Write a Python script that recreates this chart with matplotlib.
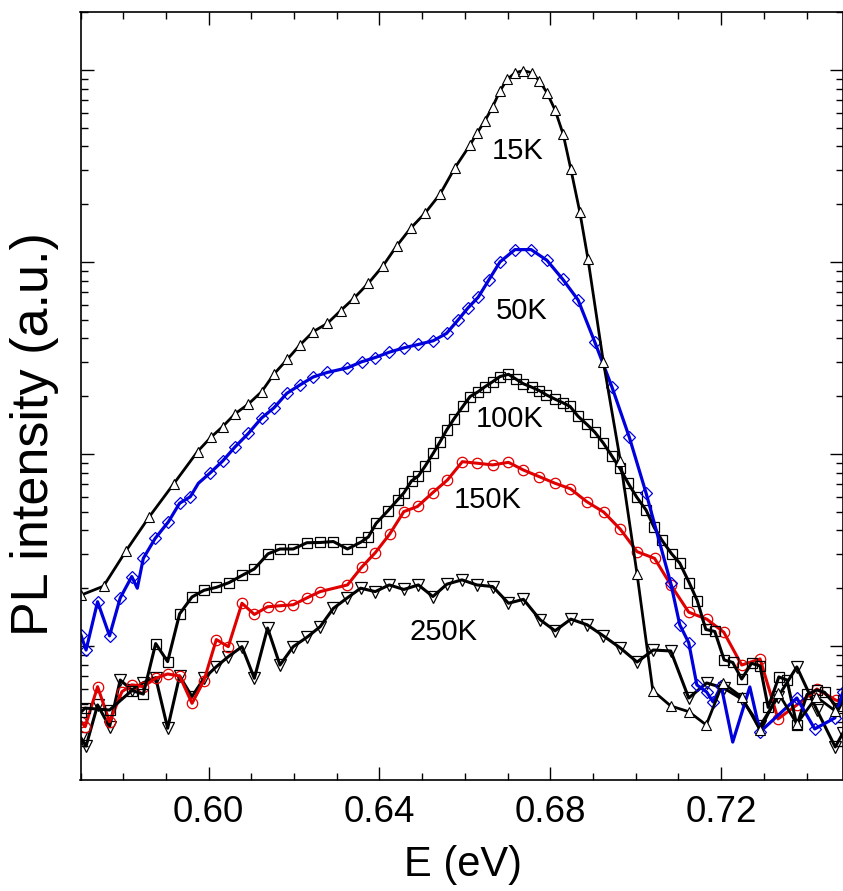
import numpy as np
import matplotlib
matplotlib.use('Agg')
import matplotlib.pyplot as plt
from matplotlib.ticker import MultipleLocator, LogLocator, NullFormatter, FormatStrFormatter

plt.rcParams['font.family'] = ['Liberation Sans', 'DejaVu Sans']

# 15 K
e_15 = [0.5701, 0.5754, 0.5807, 0.5861, 0.5918, 0.5974, 0.6005, 0.6033, 0.6062, 0.6093,
        0.6124, 0.6153, 0.6184, 0.6214, 0.6245, 0.6278, 0.6309, 0.6340, 0.6374, 0.6408,
        0.6440, 0.6473, 0.6507, 0.6542, 0.6576, 0.6612, 0.6628, 0.6647, 0.6665, 0.6682,
        0.6699, 0.6718, 0.6737, 0.6756, 0.6774, 0.6792, 0.6811, 0.6830, 0.6848, 0.6869,
        0.6888, 0.6924, 0.6964, 0.7003, 0.7040, 0.7082, 0.7124, 0.7165, 0.7204, 0.7248,
        0.7291, 0.7334, 0.7377, 0.7423, 0.7467, 0.7485]
i_15 = [1.84, 2.05, 3.14, 4.71, 6.98, 10.3, 12.2, 13.9, 16.2, 18.2,
        21.1, 26.1, 31.1, 37.0, 43.4, 47.9, 55.8, 64.7, 77.5, 95.3,
        121, 150, 180, 226, 308, 407, 468, 544, 644, 777,
        894, 968, 992, 968, 880, 762, 619, 463, 304, 182,
        104, 30.3, 9.20, 2.37, 0.585, 0.487, 0.455, 0.388, 0.642, 0.543,
        0.365, 0.569, 0.393, 0.543, 0.459, 0.487]

# 50 K
e_50 = [0.5701, 0.5713, 0.5740, 0.5768, 0.5793, 0.5820, 0.5833, 0.5847, 0.5875, 0.5906,
        0.5932, 0.5957, 0.5976, 0.6004, 0.6033, 0.6062, 0.6093, 0.6124, 0.6153, 0.6183,
        0.6214, 0.6245, 0.6278, 0.6325, 0.6358, 0.6390, 0.6423, 0.6457, 0.6491, 0.6526,
        0.6557, 0.6584, 0.6607, 0.6631, 0.6656, 0.6682, 0.6717, 0.6755, 0.6792, 0.6829,
        0.6865, 0.6904, 0.6944, 0.6985, 0.7024, 0.7082, 0.7103, 0.7124, 0.7143, 0.7166,
        0.7181, 0.7200, 0.7227, 0.7267, 0.7291, 0.7377, 0.7419, 0.7466, 0.7485]
i_50 = [1.14, 0.953, 1.70, 1.13, 1.78, 2.30, 2.00, 2.86, 3.64, 4.44,
        5.54, 5.99, 7.04, 7.99, 9.20, 10.9, 12.8, 15.4, 17.4, 20.7,
        22.9, 25.2, 26.6, 28.1, 30.2, 31.8, 33.9, 35.7, 37.2, 38.9,
        42.5, 49.9, 57.6, 65.5, 80.6, 100, 116, 116, 102, 81.3,
        63.4, 38.3, 22.4, 12.2, 6.27, 2.12, 1.29, 1.04, 0.627, 0.576,
        0.511, 0.619, 0.316, 0.612, 0.357, 0.536, 0.370, 0.422, 0.576]
no_marker_50 = [6, 12, 52, 53]

# 100 K
e_100 = [0.5701, 0.5711, 0.5768, 0.5820, 0.5847, 0.5876, 0.5904, 0.5932, 0.5961, 0.5989,
         0.6018, 0.6048, 0.6078, 0.6107, 0.6139, 0.6167, 0.6198, 0.6230, 0.6261, 0.6292,
         0.6325, 0.6357, 0.6374, 0.6392, 0.6419, 0.6443, 0.6457, 0.6475, 0.6491, 0.6507,
         0.6526, 0.6542, 0.6557, 0.6574, 0.6596, 0.6612, 0.6631, 0.6647, 0.6665, 0.6682,
         0.6702, 0.6720, 0.6737, 0.6756, 0.6774, 0.6791, 0.6811, 0.6829, 0.6846, 0.6865,
         0.6885, 0.6904, 0.6924, 0.6944, 0.6963, 0.6982, 0.7002, 0.7024, 0.7043, 0.7061,
         0.7084, 0.7103, 0.7125, 0.7144, 0.7164, 0.7185, 0.7207, 0.7227, 0.7248, 0.7271,
         0.7291, 0.7310, 0.7335, 0.7354, 0.7377, 0.7401, 0.7424, 0.7442, 0.7473, 0.7485]
i_100 = [0.453, 0.475, 0.464, 0.586, 0.562, 1.03, 0.829, 1.47, 1.80, 1.95,
         2.02, 2.14, 2.33, 2.52, 3.02, 3.20, 3.20, 3.45, 3.46, 3.50,
         3.20, 3.48, 3.70, 4.35, 5.04, 5.79, 6.27, 7.24, 7.68, 8.66,
         10.1, 11.6, 13.3, 15.2, 17.8, 19.9, 21.1, 22.4, 23.8, 25.3,
         26.0, 24.5, 23.2, 22.3, 21.4, 20.3, 19.3, 18.5, 17.7, 15.7,
         14.3, 13.0, 11.4, 9.76, 8.42, 7.06, 5.97, 5.11, 4.15, 3.56,
         3.02, 2.70, 2.14, 1.72, 1.22, 1.19, 0.846, 0.821, 0.673, 0.813,
         0.787, 0.479, 0.690, 0.665, 0.386, 0.559, 0.590, 0.574, 0.474, 0.523]

# 150 K
e_150 = [0.5701, 0.5711, 0.5740, 0.5768, 0.5797, 0.5820, 0.5847, 0.5876, 0.5904, 0.5932,
         0.5961, 0.5989, 0.6018, 0.6046, 0.6078, 0.6107, 0.6138, 0.6167, 0.6198, 0.6230,
         0.6261, 0.6325, 0.6358, 0.6390, 0.6424, 0.6457, 0.6489, 0.6525, 0.6559, 0.6594,
         0.6629, 0.6665, 0.6702, 0.6737, 0.6774, 0.6811, 0.6847, 0.6885, 0.6925, 0.6964,
         0.7003, 0.7044, 0.7082, 0.7124, 0.7166, 0.7206, 0.7248, 0.7291, 0.7333, 0.7377,
         0.7424, 0.7468, 0.7485]
i_150 = [0.403, 0.380, 0.614, 0.403, 0.578, 0.627, 0.614, 0.679, 0.715, 0.698,
         0.503, 0.660, 1.08, 0.992, 1.67, 1.46, 1.60, 1.62, 1.64, 1.78,
         1.92, 2.08, 2.57, 3.06, 3.83, 5.01, 5.33, 6.30, 7.32, 9.12,
         8.95, 8.77, 9.05, 8.25, 7.62, 7.04, 6.59, 5.65, 4.98, 4.05,
         3.10, 2.86, 2.08, 1.50, 1.38, 1.18, 0.796, 0.856, 0.417, 0.493,
         0.597, 0.523, 0.511]

# 250 K
e_250 = [0.5701, 0.5713, 0.5740, 0.5768, 0.5793, 0.5820, 0.5847, 0.5876, 0.5904, 0.5932,
         0.5961, 0.5989, 0.6018, 0.6046, 0.6078, 0.6107, 0.6138, 0.6167, 0.6198, 0.6230,
         0.6261, 0.6292, 0.6323, 0.6356, 0.6390, 0.6423, 0.6457, 0.6491, 0.6525, 0.6558,
         0.6593, 0.6628, 0.6665, 0.6702, 0.6737, 0.6776, 0.6811, 0.6848, 0.6886, 0.6924,
         0.6964, 0.7003, 0.7041, 0.7082, 0.7124, 0.7166, 0.7206, 0.7248, 0.7291, 0.7333,
         0.7377, 0.7424, 0.7467, 0.7485]
i_250 = [0.332, 0.301, 0.493, 0.380, 0.665, 0.590, 0.644, 0.684, 0.373, 0.698,
         0.545, 0.679, 0.780, 0.880, 0.992, 0.679, 1.24, 0.796, 0.992, 1.11,
         1.26, 1.57, 1.77, 2.00, 1.92, 2.08, 1.97, 2.08, 1.81, 2.10,
         2.21, 2.08, 2.04, 1.67, 1.75, 1.37, 1.20, 1.38, 1.29, 1.13,
         0.976, 0.825, 0.953, 0.942, 0.536, 0.642, 0.604, 0.530, 0.383, 0.543,
         0.778, 0.464, 0.298, 0.352]

labels = ['15K', '50K', '100K', '150K', '250K']
label_e = [0.6724, 0.6734, 0.6704, 0.6653, 0.6549]
label_i = [378, 55.6, 15.2, 5.78, 1.18]

blue = '#0000dd'
red = '#e00000'

fig = plt.figure(figsize=(8.43, 8.91), dpi=100)
ax = fig.add_axes([80.5 / 843, 111 / 891, 762 / 843, 768 / 891])

ax.plot(e_250, i_250, color='k', lw=2.2, marker='v', ms=8, mfc='none', mec='k', mew=0.9)
ax.plot(e_150, i_150, color=red, lw=2.2, marker='o', ms=7.5, mfc='none', mec=red, mew=0.9)
ax.plot(e_100, i_100, color='k', lw=2.2, marker='s', ms=6.8, mfc='none', mec='k', mew=0.9)
ax.plot(e_50, i_50, color=blue, lw=2.3, marker='D', ms=6.5, mfc='none', mec=blue, mew=0.9,
        markevery=[k for k in range(len(e_50)) if k not in no_marker_50])
ax.plot(e_15, i_15, color='k', lw=2.0, marker='^', ms=7, mfc='white', mec='k', mew=0.8)

for txt, x, y in zip(labels, label_e, label_i):
    ax.text(x, y, txt, fontsize=21, ha='center', va='center')

ax.set_yscale('log')
ax.set_xlim(0.570, 0.7484)
ax.set_ylim(0.2005, 2004)

ax.xaxis.set_major_locator(MultipleLocator(0.04))
ax.xaxis.set_minor_locator(MultipleLocator(0.01))
ax.xaxis.set_major_formatter(FormatStrFormatter('%.2f'))
ax.yaxis.set_major_locator(LogLocator(base=10, numticks=10))
ax.yaxis.set_minor_locator(LogLocator(base=10, subs=np.arange(2, 10), numticks=20))
ax.yaxis.set_major_formatter(NullFormatter())
ax.yaxis.set_minor_formatter(NullFormatter())

ax.tick_params(which='both', direction='in', top=True, right=True, width=1)
ax.tick_params(which='major', length=9.5, labelsize=26.5, pad=11)
ax.tick_params(which='minor', length=5)
for sp in ax.spines.values():
    sp.set_linewidth(1.2)

ax.set_xlabel('E (eV)', fontsize=30, va='center')
ax.xaxis.set_label_coords(0.502, -0.111)
ax.set_ylabel('PL intensity (a.u.)', fontsize=37.5, va='center')
ax.yaxis.set_label_coords(-0.060, 0.45)

fig.savefig('out.png', dpi=100)
